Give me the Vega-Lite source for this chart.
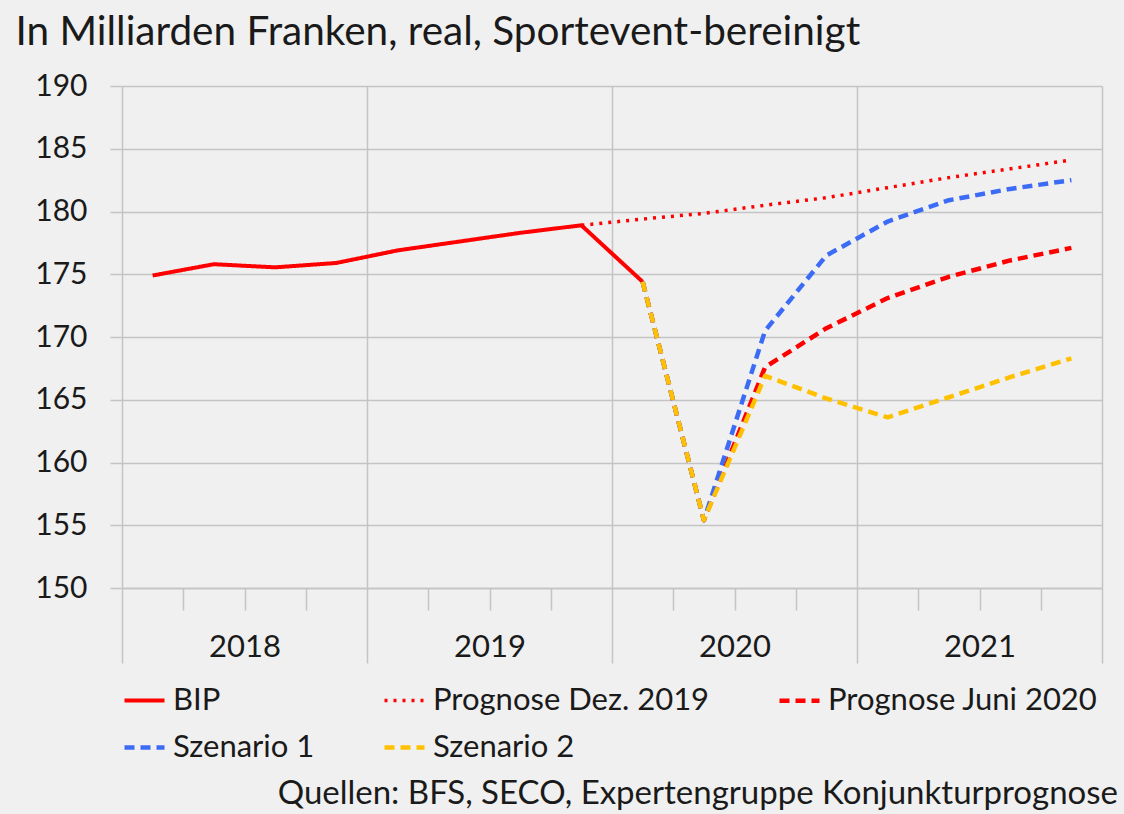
{
  "$schema": "https://vega.github.io/schema/vega-lite/v6.json",
  "width": 980,
  "height": 502,
  "autosize": {"type": "none"},
  "padding": {"left": 122, "top": 86, "right": 22, "bottom": 226},
  "background": "#f0f0f0",
  "config": {
    "view": {"stroke": null},
    "font": "Lato",
    "axis": {"gridColor": "#c4c4c4", "gridWidth": 1.5, "tickColor": "#c4c4c4", "tickWidth": 1.5, "domainColor": "#c4c4c4", "domainWidth": 1.5, "labelColor": "#1a1a1a", "labelFont": "Lato", "labelFontSize": 30}
  },
  "title": {
    "text": "Quellen: BFS, SECO, Expertengruppe Konjunkturprognose",
    "orient": "bottom",
    "anchor": "end",
    "frame": "group",
    "font": "Lato",
    "fontSize": 33,
    "fontWeight": "normal",
    "color": "#1a1a1a",
    "offset": 15,
    "dx": 16
  },
  "data": {
    "values": [
      {"s": "Prognose Dez. 2019", "t": 2019.875, "v": 178.9},
      {"s": "Prognose Dez. 2019", "t": 2020.125, "v": 179.4},
      {"s": "Prognose Dez. 2019", "t": 2020.375, "v": 179.85},
      {"s": "Prognose Dez. 2019", "t": 2020.625, "v": 180.5},
      {"s": "Prognose Dez. 2019", "t": 2020.875, "v": 181.1},
      {"s": "Prognose Dez. 2019", "t": 2021.125, "v": 181.9},
      {"s": "Prognose Dez. 2019", "t": 2021.375, "v": 182.7},
      {"s": "Prognose Dez. 2019", "t": 2021.625, "v": 183.4},
      {"s": "Prognose Dez. 2019", "t": 2021.875, "v": 184.1},
      {"s": "BIP", "t": 2018.125, "v": 174.9},
      {"s": "BIP", "t": 2018.375, "v": 175.8},
      {"s": "BIP", "t": 2018.625, "v": 175.55},
      {"s": "BIP", "t": 2018.875, "v": 175.9},
      {"s": "BIP", "t": 2019.125, "v": 176.9},
      {"s": "BIP", "t": 2019.375, "v": 177.6},
      {"s": "BIP", "t": 2019.625, "v": 178.3},
      {"s": "BIP", "t": 2019.875, "v": 178.9},
      {"s": "BIP", "t": 2020.125, "v": 174.4},
      {"s": "Prognose Juni 2020", "t": 2020.125, "v": 174.4},
      {"s": "Prognose Juni 2020", "t": 2020.375, "v": 155.4},
      {"s": "Prognose Juni 2020", "t": 2020.625, "v": 167.6},
      {"s": "Prognose Juni 2020", "t": 2020.875, "v": 170.7},
      {"s": "Prognose Juni 2020", "t": 2021.125, "v": 173.1},
      {"s": "Prognose Juni 2020", "t": 2021.375, "v": 174.8},
      {"s": "Prognose Juni 2020", "t": 2021.625, "v": 176.1},
      {"s": "Prognose Juni 2020", "t": 2021.875, "v": 177.1},
      {"s": "Szenario 1", "t": 2020.125, "v": 174.4},
      {"s": "Szenario 1", "t": 2020.375, "v": 155.4},
      {"s": "Szenario 1", "t": 2020.625, "v": 170.5},
      {"s": "Szenario 1", "t": 2020.875, "v": 176.5},
      {"s": "Szenario 1", "t": 2021.125, "v": 179.2},
      {"s": "Szenario 1", "t": 2021.375, "v": 180.9},
      {"s": "Szenario 1", "t": 2021.625, "v": 181.8},
      {"s": "Szenario 1", "t": 2021.875, "v": 182.5},
      {"s": "Szenario 2", "t": 2020.125, "v": 174.4},
      {"s": "Szenario 2", "t": 2020.375, "v": 155.4},
      {"s": "Szenario 2", "t": 2020.625, "v": 166.9},
      {"s": "Szenario 2", "t": 2020.875, "v": 165.1},
      {"s": "Szenario 2", "t": 2021.125, "v": 163.6},
      {"s": "Szenario 2", "t": 2021.375, "v": 165.2},
      {"s": "Szenario 2", "t": 2021.625, "v": 166.8},
      {"s": "Szenario 2", "t": 2021.875, "v": 168.3}
    ]
  },
  "mark": {"type": "line", "strokeCap": "butt", "strokeJoin": "round"},
  "encoding": {
    "x": {
      "field": "t",
      "type": "quantitative",
      "scale": {"domain": [2018, 2022], "nice": false, "zero": false},
      "axis": {
        "title": null,
        "values": [2018, 2018.25, 2018.5, 2018.75, 2019, 2019.25, 2019.5, 2019.75, 2020, 2020.25, 2020.5, 2020.75, 2021, 2021.25, 2021.5, 2021.75, 2022],
        "labelExpr": "datum.value % 1 === 0 && datum.value < 2022 ? format(datum.value, 'd') : ''",
        "labelOffset": 122.5,
        "labelOverlap": false,
        "labelBound": false,
        "labelFlush": false,
        "labelPadding": -16,
        "labelBaseline": "middle",
        "labelFontSize": 31,
        "tickSize": {"condition": {"test": "datum.value % 1 === 0", "value": 75}, "value": 22},
        "gridOpacity": {"condition": {"test": "datum.value % 1 === 0", "value": 1}, "value": 0}
      }
    },
    "y": {
      "field": "v",
      "type": "quantitative",
      "scale": {"domain": [150, 190], "nice": false, "zero": false},
      "axis": {
        "values": [150, 155, 160, 165, 170, 175, 180, 185, 190],
        "domain": false,
        "tickSize": 12,
        "labelPadding": 23,
        "title": "In Milliarden Franken, real, Sportevent-bereinigt",
        "titleAngle": 0,
        "titleAlign": "left",
        "titleBaseline": "alphabetic",
        "titleX": -107,
        "titleY": -42,
        "titleFont": "Lato",
        "titleFontSize": 40.5,
        "titleFontWeight": "normal",
        "titleColor": "#1a1a1a"
      }
    },
    "color": {
      "field": "s",
      "type": "nominal",
      "scale": {
        "domain": ["BIP", "Prognose Dez. 2019", "Prognose Juni 2020", "Szenario 1", "Szenario 2"],
        "range": ["#ff0000", "#ff0000", "#ff0000", "#3c6cf5", "#ffc000"]
      },
      "legend": {
        "title": null,
        "orient": "bottom",
        "direction": "horizontal",
        "columns": 3,
        "gridAlign": "each",
        "columnPadding": 60,
        "rowPadding": 9,
        "offset": 14,
        "symbolType": "stroke",
        "symbolSize": 1600,
        "symbolStrokeWidth": 4,
        "labelFont": "Lato",
        "labelFontSize": 31,
        "labelColor": "#1a1a1a",
        "labelLimit": 400,
        "labelOffset": 6
      }
    },
    "strokeDash": {
      "field": "s",
      "type": "nominal",
      "scale": {
        "domain": ["BIP", "Prognose Dez. 2019", "Prognose Juni 2020", "Szenario 1", "Szenario 2"],
        "range": [[1, 0], [3, 6], [10, 6], [10, 6], [10, 6]]
      }
    },
    "strokeWidth": {
      "field": "s",
      "type": "nominal",
      "scale": {
        "type": "ordinal",
        "domain": ["BIP", "Prognose Dez. 2019", "Prognose Juni 2020", "Szenario 1", "Szenario 2"],
        "range": [4, 3.5, 4.5, 4.5, 4.5]
      },
      "legend": null
    }
  }
}
